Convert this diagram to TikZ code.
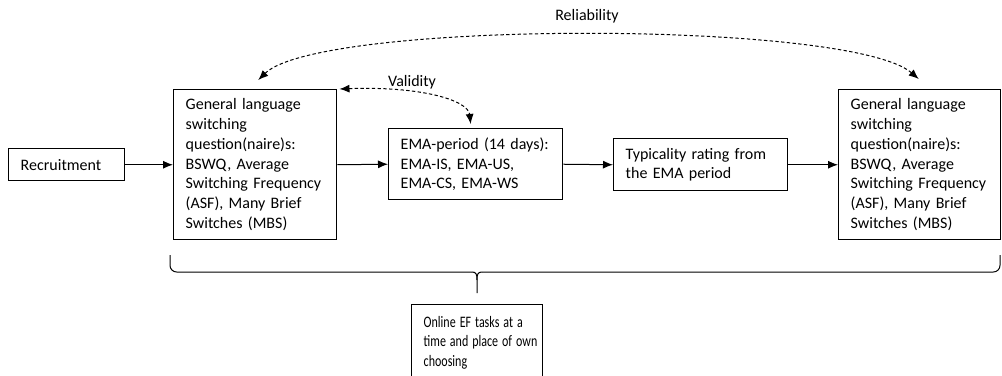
\documentclass[tikz,border=0pt]{standalone}
\usepackage{fontspec}
\usepackage{graphicx}
\setmainfont{Carlito}
\usetikzlibrary{arrows.meta}
% horizontally condensed line, used in the task box
\newcommand{\cond}[1]{\scalebox{0.75}[1]{#1}}
\begin{document}
\begin{tikzpicture}[x=0.75pt,y=-0.75pt,
  font=\fontsize{12}{14.8}\selectfont,
  box/.style={draw, line width=1.1pt, inner xsep=9pt, inner ysep=0pt,
    align=left, anchor=north west},
  flow/.style={-{Latex[length=7.5pt,width=6pt]}, line width=0.75pt},
  link/.style={{Latex[length=7.5pt,width=6pt]}-{Latex[length=7.5pt,width=6pt]},
    line width=0.75pt, dash pattern=on 2.5pt off 1.8pt},
  brace/.style={line width=0.75pt},
  lbl/.style={inner sep=0pt}]
\useasboundingbox (0,0) rectangle (1002,375);
\clip (0,0) rectangle (1002,375);

% process boxes
\node[box, text width=69pt, minimum height=24pt] (rec) at (8,148) {Recruitment};
\node[box, text width=104.25pt, minimum height=112.5pt] (q1) at (173,89)
  {General language\\ switching\\ question(naire)s:\\ BSWQ, Average\\
   Switching Frequency\\ (ASF), Many Brief\\ Switches (MBS)};
\node[box, text width=112.5pt, minimum height=53.25pt] (ema) at (388,128)
  {EMA-period (14 days):\\ EMA-IS, EMA-US,\\ EMA-CS, EMA-WS};
\node[box, text width=112.5pt, minimum height=39pt] (typ) at (613,138)
  {Typicality rating from\\ the EMA period};
\node[box, text width=103.5pt, minimum height=112.5pt] (q2) at (838,89)
  {General language\\ switching\\ question(naire)s:\\ BSWQ, Average\\
   Switching Frequency\\ (ASF), Many Brief\\ Switches (MBS)};
\node[box, text width=80.25pt, minimum height=57pt] (ef) at (411,304)
  {\cond{Online EF tasks at a}\\ \cond{time and place of own}\\ \cond{choosing}};

% main flow
\draw[flow] (rec.east) -- (q1.west);
\draw[flow] (q1.east) -- (ema.west);
\draw[flow] (ema.east) -- (typ.west);
\draw[flow] (typ.east) -- (q2.west);

% validity and reliability links
\draw[link] ([shift={(2,0)}]q1.north east)
  .. controls (420,86) and (468,100) .. ([shift={(-5,-4)}]ema.north);
\node[lbl] (val) at (412,82) {Validity};
\draw[link] ([shift={(3,-9)}]q1.north)
  .. controls (320,20) and (850,20) .. ([shift={(-1,-10)}]q2.north);
\node[lbl] (rel) at (587,16) {Reliability};

% brace over the whole session span
\draw[brace, rounded corners=5] (170,255) -- (170,272) -- (472,272);
\draw[brace] (472,272) .. controls (476,272) and (477,274) .. (477,280) -- (477,293);
\draw[brace, rounded corners=5] (1000,255) -- (1000,272) -- (482,272);
\draw[brace] (482,272) .. controls (478,272) and (477,274) .. (477,280);
\end{tikzpicture}
\end{document}
